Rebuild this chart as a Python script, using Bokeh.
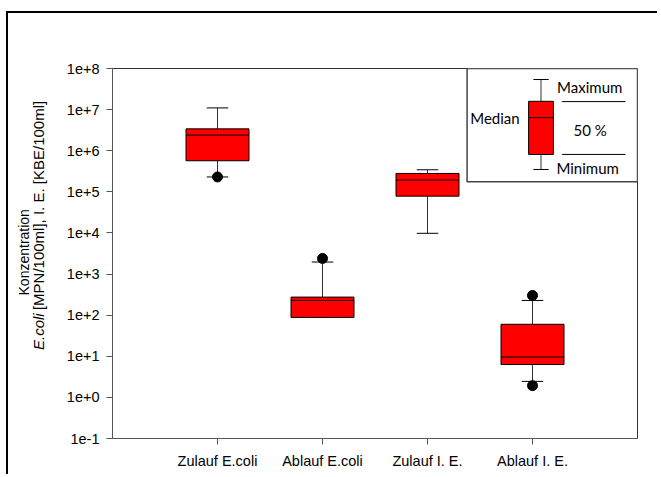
import numpy as np
from bokeh.plotting import figure
from bokeh.layouts import row
from bokeh.models import FixedTicker, Label, Range1d
from bokeh.core.properties import value
from bokeh.embed import file_html
from bokeh.resources import INLINE

# ---- data ----
categories = ["Zulauf E.coli", "Ablauf E.coli", "Zulauf I. E.", "Ablauf I. E."]
whisker_low = [2.3e5, 88, 9.8e3, 2.45]
q1 = [5.7e5, 88, 7.85e4, 6.3]
median = [2.4e6, 229, 1.93e5, 9.6]
q3 = [3.4e6, 275, 2.8e5, 60]
whisker_high = [1.1e7, 1960, 3.44e5, 228]
outlier_cat = [0, 1, 3, 3]
outlier_val = [2.3e5, 2400, 302, 1.93]
y_exponents = [-1, 0, 1, 2, 3, 4, 5, 6, 7, 8]
y_tick_labels = ["1e-1", "1e+0", "1e+1", "1e+2", "1e+3", "1e+4", "1e+5", "1e+6", "1e+7", "1e+8"]
y_title_line1 = "Konzentration"
y_title_italic = "E.coli"
y_title_rest = "[MPN/100ml], I. E. [KBE/100ml]"

# legend key (schematic box)
key_box = dict(low=10**5.544, q1=10**5.910, med=10**6.805, q3=10**7.202, high=10**7.732)

FONT = "Liberation Sans"
LFONT = "Lato"
H = 461
LW = 55

xs = [i + 1 for i in range(len(categories))]
yticks = [10.0 ** e for e in y_exponents]

# ---- left strip holding the two-line y title ----
t = figure(width=LW, height=H, output_backend="svg", toolbar_location=None,
           x_axis_type=None, y_axis_type=None, x_range=Range1d(0, LW), y_range=Range1d(0, H),
           min_border=0, min_border_left=0, min_border_right=0, min_border_top=0, min_border_bottom=0)
t.outline_line_color = None
t.grid.visible = False
t.text(x=[15], y=[232], text=[y_title_line1], angle=np.pi / 2, text_align="center",
       text_baseline="middle", text_font=value(FONT), text_font_size="14px", text_color="black")
t.text(x=[29.5], y=[156], text=[y_title_italic], angle=np.pi / 2, text_align="right",
       text_baseline="middle", text_font=value(FONT), text_font_size="15px",
       text_font_style="italic", text_color="black")
t.text(x=[29.5], y=[160], text=[y_title_rest], angle=np.pi / 2, text_align="left",
       text_baseline="middle", text_font=value(FONT), text_font_size="15px", text_color="black")

# ---- main chart ----
p = figure(width=594, height=H, output_backend="svg", toolbar_location=None,
           y_axis_type="log", x_range=Range1d(0, 5), y_range=Range1d(1e-1, 1e8),
           min_border_left=46, min_border_top=55, min_border_right=20, min_border_bottom=36)
p.grid.visible = False
p.outline_line_color = "#333333"
p.outline_line_width = 1
p.background_fill_color = "white"
p.border_fill_color = "white"

p.xaxis.ticker = FixedTicker(ticks=xs)
p.xaxis.major_label_overrides = {x: c for x, c in zip(xs, categories)}
p.yaxis.ticker = FixedTicker(ticks=yticks)
p.yaxis.major_label_overrides = {tk: l for tk, l in zip(yticks, y_tick_labels)}
for ax in (p.xaxis, p.yaxis):
    ax.axis_line_color = "#555555"
    ax.major_tick_line_color = "#555555"
    ax.major_tick_in = 0
    ax.major_tick_out = 6
    ax.minor_tick_line_color = None
    ax.major_label_text_font = FONT
    ax.major_label_text_font_size = "14.5px"
    ax.major_label_text_color = "black"
p.xaxis.major_label_standoff = 8
p.yaxis.major_label_standoff = 7

# whiskers
p.segment(x0=xs, y0=whisker_low, x1=xs, y1=q1, line_color="#333333", line_width=1)
p.segment(x0=xs, y0=q3, x1=xs, y1=whisker_high, line_color="#333333", line_width=1)
cap = 0.1025
p.segment(x0=[x - cap for x in xs], y0=whisker_low, x1=[x + cap for x in xs], y1=whisker_low,
          line_color="black", line_width=1)
p.segment(x0=[x - cap for x in xs], y0=whisker_high, x1=[x + cap for x in xs], y1=whisker_high,
          line_color="black", line_width=1)
# boxes
p.vbar(x=xs, width=0.6, bottom=q1, top=q3, fill_color="#FF0000", line_color="black", line_width=1)
p.segment(x0=[x - 0.3 for x in xs], y0=median, x1=[x + 0.3 for x in xs], y1=median,
          line_color="black", line_width=1)
# outliers
p.scatter(x=[xs[i] for i in outlier_cat], y=outlier_val, size=10, fill_color="black",
          line_color="black", marker="circle")

# legend key box
p.quad(left=[3.377], right=[5.0], top=[1e8], bottom=[10**5.244], fill_color="white",
       line_color="#444444", line_width=1.5)
kx = 4.081
p.segment(x0=[kx, kx], y0=[key_box["q3"], key_box["q1"]], x1=[kx, kx],
          y1=[key_box["high"], key_box["low"]], line_color="#333333", line_width=1)
p.segment(x0=[kx - 0.073] * 2, y0=[key_box["high"], key_box["low"]], x1=[kx + 0.073] * 2,
          y1=[key_box["high"], key_box["low"]], line_color="black", line_width=1)
p.quad(left=[kx - 0.118], right=[kx + 0.118], bottom=[key_box["q1"]], top=[key_box["q3"]],
       fill_color="#FF0000", line_color="black", line_width=1)
p.segment(x0=[kx - 0.118], y0=[key_box["med"]], x1=[kx + 0.118], y1=[key_box["med"]],
          line_color="black", line_width=1)
p.segment(x0=[4.282, 4.282], y0=[10**7.195, key_box["q1"]], x1=[4.886, 4.886],
          y1=[10**7.195, key_box["q1"]], line_color="black", line_width=1)

def lab(x, y, text, align="left"):
    p.add_layout(Label(x=x, y=y, text=text, text_align=align, text_baseline="middle",
                       text_font=LFONT, text_font_size="15px", text_color="black"))

lab(4.234, 10**7.544, "Maximum")
lab(4.549, 10**6.512, "50 %", align="center")
lab(4.228, 10**5.568, "Minimum")
lab(3.878, 10**6.805, "Median", align="right")

layout = row(t, p)
layout.styles = {"border-left": "2px solid black", "border-top": "2px solid black",
                 "margin-left": "6px", "margin-top": "11px"}

open("out.html", "w").write(file_html(layout, INLINE))
